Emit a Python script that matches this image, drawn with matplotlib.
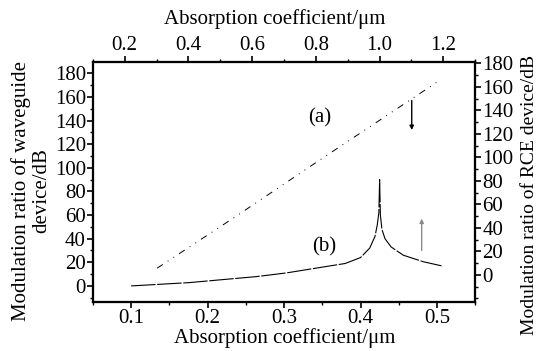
import numpy as np
import matplotlib
matplotlib.use('Agg')
import matplotlib.pyplot as plt
from matplotlib.ticker import MultipleLocator

plt.rcParams['font.family'] = ['Liberation Serif', 'DejaVu Serif']

# curve (a): waveguide device (bottom / left axes)
a_x = [0.134, 0.235, 0.343, 0.501]
a_y = [15, 58, 105, 173]

# curve (b): RCE device (bottom / left axes)
b_x = [0.100, 0.176, 0.264, 0.303, 0.351, 0.380, 0.400, 0.412, 0.419, 0.422,
       0.424, 0.425, 0.426, 0.428, 0.432, 0.440, 0.456, 0.482, 0.506]
b_y = [0, 2.8, 7.9, 11, 16, 19, 24, 32, 42, 52,
       62, 90, 60, 48, 40, 33, 26, 20.5, 17]

bottom_ticks = [0.1, 0.2, 0.3, 0.4, 0.5]
top_ticks = [0.2, 0.4, 0.6, 0.8, 1.0, 1.2]
y_ticks = [0, 20, 40, 60, 80, 100, 120, 140, 160, 180]

fs = 15
W, H = 540, 351

fig = plt.figure(figsize=(5.4, 3.51), dpi=100)
ax = fig.add_axes([0.172, 0.140, 0.708, 0.683])
ax_r = ax.twinx()
ax_t = ax.twiny()

ax.plot(a_x, a_y, color='black', lw=0.7, linestyle=(0, (7, 6, 1, 6, 1, 6)))
ax.plot(b_x, b_y, color='black', lw=0.8, linestyle=(0, (22, 1.5)))

# labels and arrows
ax.text(0.346, 142, '(a)', fontsize=fs, ha='center', va='center')
ax.text(0.353, 33, '(b)', fontsize=fs, ha='center', va='center')
ax.annotate('', xy=(0.467, 132), xytext=(0.467, 157),
            arrowprops=dict(arrowstyle='-|>', color='black', lw=1.0,
                            mutation_scale=6, shrinkA=0, shrinkB=0))
ax.annotate('', xy=(0.480, 57), xytext=(0.480, 30),
            arrowprops=dict(arrowstyle='-|>', color='0.55', lw=1.0,
                            mutation_scale=6, shrinkA=0, shrinkB=0))

ax.set_xlim(0.05, 0.55)
ax.set_ylim(-13.5, 189.5)
ax_r.set_ylim(-23, 181)
ax_t.set_xlim(0.1, 1.3)

ax.set_xticks(bottom_ticks)
ax.set_xticklabels([f'{v:.1f}' for v in bottom_ticks])
ax.xaxis.set_minor_locator(MultipleLocator(0.05))
ax.set_yticks(y_ticks)
ax.yaxis.set_minor_locator(MultipleLocator(10))
ax_r.set_yticks(y_ticks)
ax_r.yaxis.set_minor_locator(MultipleLocator(10))
ax_t.set_xticks(top_ticks)
ax_t.set_xticklabels([f'{v:.1f}' for v in top_ticks])
ax_t.xaxis.set_minor_locator(MultipleLocator(0.1))

for a in (ax, ax_r, ax_t):
    a.tick_params(which='major', direction='out', length=4, width=1.2,
                  labelsize=fs, pad=1)
    a.tick_params(which='minor', direction='out', length=2, width=1.0)
    for s in a.spines.values():
        s.set_linewidth(1.5)

# axis titles placed in figure pixels, as in the reference
fig.text(285 / W, 1 - 338 / H, 'Absorption coefficient/μm', fontsize=fs,
         ha='center', va='center')
fig.text(275 / W, 1 - 19 / H, 'Absorption coefficient/μm', fontsize=fs,
         ha='center', va='center')
fig.text(31 / W, 1 - 191 / H, 'Modulation ratio of waveguide\ndevice/dB',
         fontsize=15, rotation=90, ha='center', va='center',
         multialignment='center', linespacing=1.1)
fig.text(529 / W, 1 - 195 / H, 'Modulation ratio of RCE device/dB',
         fontsize=14, rotation=90, ha='center', va='center')

fig.savefig('out.png', dpi=100)
